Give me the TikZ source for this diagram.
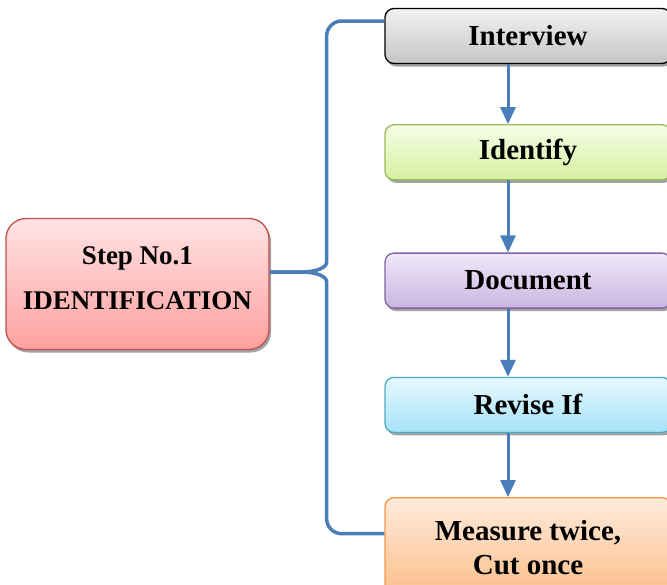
\documentclass[tikz,border=0pt]{standalone}
\usepackage{fontspec}
\setmainfont{Liberation Serif}
\usepackage{tikz}
\usetikzlibrary{shapes,arrows.meta,positioning,calc,shadows}

\definecolor{lineblue}{HTML}{4A7EBB}
\definecolor{grayTop}{HTML}{F2F2F2}
\definecolor{grayBot}{HTML}{C6C6C6}
\definecolor{greenTop}{HTML}{F5FDE6}
\definecolor{greenBot}{HTML}{D6F1A0}
\definecolor{greenLine}{HTML}{9BBB59}
\definecolor{purpleTop}{HTML}{F0E8F8}
\definecolor{purpleBot}{HTML}{CAB6E2}
\definecolor{purpleLine}{HTML}{8064A2}
\definecolor{cyanTop}{HTML}{E6F8FE}
\definecolor{cyanBot}{HTML}{A6E3F8}
\definecolor{cyanLine}{HTML}{4BACC6}
\definecolor{orangeTop}{HTML}{FFEADC}
\definecolor{orangeBot}{HTML}{FBBE88}
\definecolor{orangeLine}{HTML}{F79646}
\definecolor{redTop}{HTML}{FFE3E3}
\definecolor{redBot}{HTML}{FFA0A0}
\definecolor{redLine}{HTML}{C0504D}

\begin{document}
\begin{tikzpicture}[
    x=1pt, y=-1pt,
    node distance=60pt,
    every node/.style={font=\fontsize{29}{34}\selectfont\bfseries},
    stepbox/.style={rectangle, draw, line width=1.3pt, minimum width=286pt, minimum height=55pt, text centered, rounded corners=9pt,
        drop shadow={shadow xshift=2pt, shadow yshift=-3pt, fill=black!45, opacity=0.8}},
    mainbox/.style={rectangle, draw=redLine, line width=1.3pt, top color=redTop, bottom color=redBot, minimum width=263pt, minimum height=131pt, align=center, rounded corners=20pt,
        font=\fontsize{27}{30}\selectfont\bfseries,
        drop shadow={shadow xshift=2pt, shadow yshift=-3pt, fill=black!45, opacity=0.8}},
    flow/.style={line width=3pt, draw=lineblue, -{Triangle[length=17pt,width=15pt]}},
    brace/.style={line width=3.5pt, draw=lineblue}
]
    \useasboundingbox (0,0) rectangle (667,584);
    \clip (0,0) rectangle (667,584);

    % Nodes
    \node[mainbox] (step) at (137.5,284) {Step No.1\\[15pt]IDENTIFICATION\\[-19pt]};
    \node[stepbox, draw=black, top color=grayTop, bottom color=grayBot] (interview) at (528,36) {Interview};
    \node[stepbox, draw=greenLine, top color=greenTop, bottom color=greenBot, below=60pt of interview] (identify) {Identify};
    \node[stepbox, draw=purpleLine, top color=purpleTop, bottom color=purpleBot, below=72pt of identify] (document) {Document};
    \node[stepbox, draw=cyanLine, top color=cyanTop, bottom color=cyanBot, below=68pt of document] (revise) {Revise If};
    \node[stepbox, draw=orangeLine, top color=orangeTop, bottom color=orangeBot, minimum height=100pt, align=center, below=64pt of revise] (measure) {Measure twice,\\Cut once};

    % Arrows
    \draw[flow] ([xshift=-20pt]interview.south) -- ([xshift=-20pt]identify.north);
    \draw[flow] ([xshift=-20pt]identify.south) -- ([xshift=-20pt]document.north);
    \draw[flow] ([xshift=-20pt]document.south) -- ([xshift=-20pt]revise.north);
    \draw[flow] ([xshift=-20pt]revise.south) -- ([xshift=-20pt]measure.north);

    % Brace
    \draw[brace] ([yshift=12pt]step.east) -- ++(32,0) .. controls +(14,0) and +(0,6) .. ++(25,-10) [rounded corners=15pt] |- ([yshift=15pt]interview.west);
    \draw[brace] ([yshift=12pt]step.east) -- ++(32,0) .. controls +(14,0) and +(0,-6) .. ++(25,10) [rounded corners=15pt] |- ([yshift=14pt]measure.west);

\end{tikzpicture}
\end{document}
